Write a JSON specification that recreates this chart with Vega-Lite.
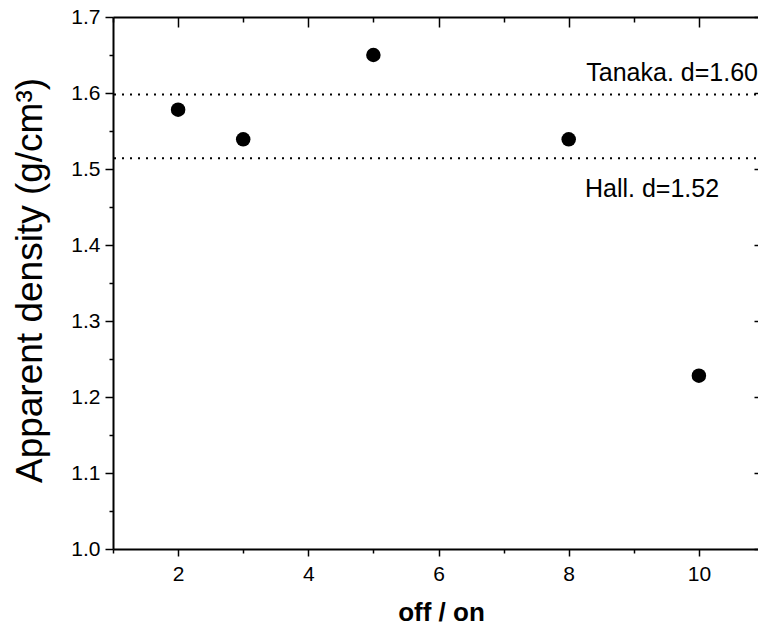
{
  "$schema": "https://vega.github.io/schema/vega-lite/v6.json",
  "width": 651,
  "height": 532,
  "autosize": "none",
  "padding": {"left": 113, "top": 17, "right": 0, "bottom": 77},
  "background": "white",
  "config": {
    "view": {"stroke": null},
    "font": "Liberation Sans",
    "axis": {
      "grid": false,
      "domainColor": "black",
      "domainWidth": 2,
      "tickColor": "black",
      "tickWidth": 1.5,
      "labelColor": "black",
      "titleColor": "black",
      "labelFont": "Liberation Sans",
      "titleFont": "Liberation Sans",
      "labelFontSize": 21,
      "labelFlush": false,
      "labelOverlap": false
    }
  },
  "datasets": {
    "points": [
      {"ratio": 2, "density": 1.578},
      {"ratio": 3, "density": 1.539},
      {"ratio": 5, "density": 1.65},
      {"ratio": 8, "density": 1.539},
      {"ratio": 10, "density": 1.228}
    ],
    "refs": [
      {"name": "Tanaka", "density": 1.598},
      {"name": "Hall", "density": 1.514}
    ],
    "notes": [
      {"ratio": 8.27, "density": 1.616, "label": "Tanaka. d=1.60"},
      {"ratio": 8.25, "density": 1.463, "label": "Hall. d=1.52"}
    ]
  },
  "layer": [
    {
      "data": {"name": "refs"},
      "mark": {"type": "rule", "color": "black", "strokeWidth": 2, "strokeDash": [2, 6]},
      "encoding": {
        "y": {"field": "density", "type": "quantitative", "scale": {"domain": [1.0, 1.7], "nice": false, "zero": false}, "axis": null}
      }
    },
    {
      "data": {"name": "points"},
      "mark": {"type": "point", "filled": true, "shape": "circle", "size": 210, "color": "black", "opacity": 1},
      "encoding": {
        "x": {
          "field": "ratio", "type": "quantitative",
          "scale": {"domain": [1, 11], "nice": false, "zero": false},
          "axis": {
            "orient": "bottom",
            "values": [1, 2, 3, 4, 5, 6, 7, 8, 9, 10, 11],
            "labelExpr": "datum.value % 2 === 0 ? datum.label : ''",
            "tickSize": {"condition": {"test": "datum.value % 2 === 0", "value": 7}, "value": 4},
            "labelFontSize": 21,
            "labelPadding": 7,
            "title": "off / on",
            "titleFontSize": 26,
            "titleFontWeight": "bold",
            "titleX": 328,
            "titleY": 71,
            "titleBaseline": "alphabetic"
          }
        },
        "y": {
          "field": "density", "type": "quantitative",
          "scale": {"domain": [1.0, 1.7], "nice": false, "zero": false},
          "axis": {
            "orient": "left",
            "values": [1.0, 1.05, 1.1, 1.15, 1.2, 1.25, 1.3, 1.35, 1.4, 1.45, 1.5, 1.55, 1.6, 1.65, 1.7],
            "format": ".1f",
            "labelExpr": "round(datum.value * 100) % 10 === 0 ? datum.label : ''",
            "tickSize": {"condition": {"test": "round(datum.value * 100) % 10 === 0", "value": 8}, "value": 4},
            "labelFontSize": 21,
            "labelPadding": 5,
            "title": "Apparent density (g/cm³)",
            "titleFontSize": 37,
            "titleFontWeight": "normal",
            "titleX": -72,
            "titleY": 263,
            "titleAngle": 270,
            "titleAlign": "center",
            "titleBaseline": "alphabetic"
          }
        }
      }
    },
    {
      "data": {"name": "notes"},
      "mark": {"type": "text", "align": "left", "baseline": "alphabetic", "fontSize": 25, "color": "black", "font": "Liberation Sans"},
      "encoding": {
        "x": {
          "field": "ratio", "type": "quantitative",
          "scale": {"domain": [1, 11], "nice": false, "zero": false},
          "axis": {
            "orient": "top",
            "values": [1, 2, 3, 4, 5, 6, 7, 8, 9, 10, 11],
            "labels": false,
            "title": null,
            "tickSize": {"condition": {"test": "datum.value % 2 === 0", "value": -10}, "value": -5}
          }
        },
        "y": {
          "field": "density", "type": "quantitative",
          "scale": {"domain": [1.0, 1.7], "nice": false, "zero": false},
          "axis": {
            "orient": "right",
            "values": [1.0, 1.05, 1.1, 1.15, 1.2, 1.25, 1.3, 1.35, 1.4, 1.45, 1.5, 1.55, 1.6, 1.65, 1.7],
            "labels": false,
            "title": null,
            "tickSize": {"condition": {"test": "round(datum.value * 100) % 10 === 0", "value": -10}, "value": -5}
          }
        },
        "text": {"field": "label", "type": "nominal"}
      }
    }
  ]
}
